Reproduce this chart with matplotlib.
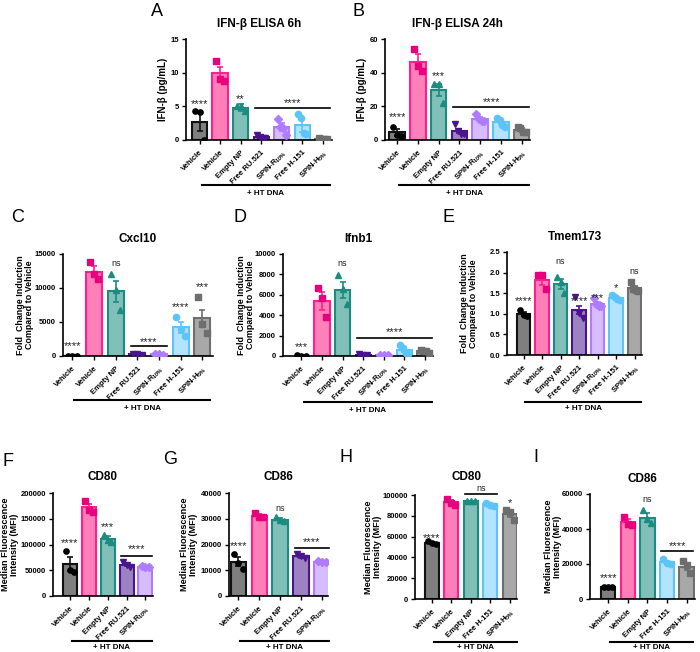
import numpy as np
import matplotlib
matplotlib.use('Agg')
import matplotlib.pyplot as plt
from matplotlib.transforms import blended_transform_factory

plt.rcParams['font.family'] = ['Liberation Sans', 'DejaVu Sans']
plt.rcParams['font.weight'] = 'bold'
plt.rcParams['mathtext.default'] = 'regular'

# Estilo de cada grupo: relleno, borde, marcador, color de marcador
styles = {
    'veh':     ('#7f7f7f', '#111111', 'o', '#000000'),
    'veh_dna': ('#ff80b8', '#ff1f8e', 's', '#e8007d'),
    'np':      ('#80c0b8', '#1b8c80', '^', '#1b8c80'),
    'ru':      ('#9c82c2', '#4a148c', 'v', '#4a148c'),
    'spin_r':  ('#d6bcff', '#b07cff', 'D', '#b07cff'),
    'h151':    ('#b2e3ff', '#5cc4f8', 'o', '#5cc4f8'),
    'spin_h':  ('#a8a8a8', '#6e6e6e', 's', '#6e6e6e'),
}

groups7 = ['veh', 'veh_dna', 'np', 'ru', 'spin_r', 'h151', 'spin_h']
labels7 = ['Vehicle', 'Vehicle', 'Empty NP', 'Free RU.521',
           'SPIN-R$_{10\\%}$', 'Free H-151', 'SPIN-H$_{5\\%}$']
groups_fg = ['veh', 'veh_dna', 'np', 'ru', 'spin_r']
labels_fg = ['Vehicle', 'Vehicle', 'Empty NP', 'Free RU.521', 'SPIN-R$_{10\\%}$']
groups_hi = ['veh', 'veh_dna', 'np', 'h151', 'spin_h']
labels_hi = ['Vehicle', 'Vehicle', 'Empty NP', 'Free H-151', 'SPIN-H$_{5\\%}$']

# A: IFN-b ELISA 6h
a_means = [2.7, 9.9, 4.8, 0.5, 1.9, 2.2, 0.2]
a_sems = [1.3, 1.0, 0.5, 0.2, 0.6, 1.0, 0.1]
a_points = [[4.3, 4.1, 0.0], [11.8, 9.1, 8.8], [5.1, 5.0, 4.3], [0.8, 0.5, 0.3, 0.3],
            [3.1, 2.0, 1.8, 0.8], [3.8, 3.2, 1.0, 0.9], [0.3, 0.2, 0.1, 0.1]]
a_stars = {0: ('****', 5.4), 2: ('**', 6.1)}
a_bracket = (3, 6, 4.75, '****', 5.5)

# B: IFN-b ELISA 24h
b_means = [4.5, 46.5, 29.5, 5.5, 12.5, 10.5, 6.0]
b_sems = [2.0, 4.5, 3.5, 1.3, 1.2, 1.2, 1.2]
b_points = [[8.0, 3.0, 2.5], [54, 44, 41], [33, 33, 22], [9.5, 5.5, 3.5, 3.5],
            [15.5, 12.5, 11, 11], [13, 12, 9, 8], [8, 7, 5, 4.5]]
b_stars = {0: ('****', 13.9), 2: ('***', 38.2)}
b_bracket = (3, 6, 19.4, '****', 22.8)

# C: Cxcl10
c_means = [30, 12400, 9500, 250, 250, 4200, 5600]
c_sems = [10, 800, 1600, 30, 30, 800, 1200]
c_points = [[40, 30, 20], [13800, 12000, 11300], [12100, 9700, 6700], [300, 250, 200],
            [300, 250, 200], [5800, 4000, 3000], [8700, 4700, 3400]]
c_stars = {0: ('****', 1400), 2: ('ns', 13570), 5: ('****', 7180), 6: ('***', 10080)}
c_bracket = (3, 4, 1400, '****', 2100)

# D: Ifnb1
d_means = [40, 5400, 6500, 130, 100, 600, 450]
d_sems = [10, 850, 800, 20, 10, 200, 80]
d_points = [[60, 40, 20], [6700, 5700, 3800], [7900, 6600, 5100], [150, 130, 110],
            [110, 100, 90], [1100, 800, 300, 200], [550, 500, 450, 300]]
d_stars = {0: ('***', 920), 2: ('ns', 9100)}
d_bracket = (3, 6, 1740, '****', 2300)

# E: Tmem173
e_means = [1.0, 1.82, 1.73, 1.09, 1.24, 1.38, 1.62]
e_sems = [0.05, 0.12, 0.12, 0.09, 0.05, 0.03, 0.05]
e_points = [[1.1, 0.97, 0.95], [1.94, 1.93, 1.6], [1.9, 1.78, 1.5], [1.4, 1.02, 0.9],
            [1.38, 1.25, 1.2, 1.18], [1.45, 1.4, 1.35, 1.33], [1.78, 1.6, 1.58, 1.55]]
e_stars = {0: ('****', 1.30), 2: ('ns', 2.27), 3: ('****', 1.30), 4: ('***', 1.37),
           5: ('*', 1.62), 6: ('ns', 2.03)}

# F: CD80 (RU.521)
f_means = [62000, 172000, 110000, 61000, 57000]
f_sems = [13000, 6000, 7000, 3000, 1000]
f_points = [[88000, 50000, 47000], [185000, 167000, 163000], [118000, 108000, 104000],
            [66000, 61000, 57000], [58000, 57000, 56000]]
f_stars = {0: ('****', 102000), 2: ('***', 133000)}
f_bracket = (3, 4, 77500, '****', 90500)

# G: CD86 (RU.521)
g_means = [13300, 31200, 29700, 15500, 13300]
g_sems = [1800, 500, 600, 700, 200]
g_points = [[16500, 12800, 10600], [32300, 30800, 30500], [30700, 29500, 29000],
            [16500, 15500, 14700], [13500, 13300, 13100]]
g_stars = {0: ('****', 19400), 2: ('ns', 33900)}
g_bracket = (3, 4, 18760, '****', 21100)

# H: CD80 (H-151)
h_means = [54000, 93000, 94000, 91000, 82000]
h_sems = [1000, 2000, 300, 1200, 3000]
h_points = [[56000, 53500, 52500], [96500, 92000, 90500], [94300, 94000, 93800],
            [92500, 90500, 89000], [86000, 84000, 76000]]
h_stars = {0: ('****', 59000), 4: ('*', 92000)}
h_bracket = (2, 3, 100600, 'ns', 106300)

# I: CD86 (H-151)
i_means = [6800, 44000, 46500, 21000, 18500]
i_sems = [200, 1500, 2500, 1000, 1800]
i_points = [[7000, 6800, 6600], [47000, 43000, 42500], [51000, 45500, 43500],
            [23000, 20500, 19800], [21500, 19500, 15000]]
i_stars = {0: ('****', 12200), 2: ('ns', 56600)}
i_bracket = (3, 4, 27600, '****', 30500)


def draw_panel(ax, groups, labels, means, sems, points, stars, bracket,
               title, ylabel, yticks, xlim, ylab_x, dna_y, fmt=None, title_pad=9,
               ylab_size=7):
    n = len(groups)
    x = np.arange(n)
    for k, g in enumerate(groups):
        face, edge, mk, mc = styles[g]
        ax.bar(x[k], means[k], width=0.74, color=face, edgecolor=edge, linewidth=1.5, zorder=1)
        ax.errorbar(x[k], means[k], yerr=sems[k], color=edge, capsize=2.5,
                    elinewidth=1.2, capthick=1.2, zorder=2)
        pts = points[k]
        offs = np.linspace(-0.2, 0.2, len(pts))
        ms = 4.5 if g == 'h151' else 3.8
        ax.plot(x[k] + offs, pts, linestyle='none', marker=mk, color=mc,
                markersize=ms, zorder=3)
    for k, (txt, yy) in stars.items():
        ax.text(k, yy, txt, ha='center', va='center', fontsize=8 if txt != 'ns' else 6.5,
                fontweight='normal', color='#222222', clip_on=False)
    if bracket is not None:
        i0, i1, yl, txt, yt = bracket
        ax.plot([i0 - 0.3, i1 + 0.35], [yl, yl], color='black', lw=1.2, clip_on=False)
        ax.text((i0 + i1) / 2 + 0.03, yt, txt, ha='center', va='center',
                fontsize=8 if txt != 'ns' else 6.5, fontweight='normal', color='#222222')
    ax.set_xlim(*xlim)
    ax.set_ylim(yticks[0], yticks[-1])
    ax.set_yticks(yticks)
    if fmt is not None:
        ax.set_yticklabels([fmt % v for v in yticks])
    ax.set_xticks(x)
    ax.set_xticklabels(labels, rotation=45, ha='right', rotation_mode='anchor', fontsize=5.5)
    ax.tick_params(axis='y', labelsize=5.5, length=3, width=1, pad=2)
    ax.tick_params(axis='x', length=3, width=1)
    for s in ['top', 'right']:
        ax.spines[s].set_visible(False)
    for s in ['left', 'bottom']:
        ax.spines[s].set_linewidth(1.2)
    ax.set_title(title, fontsize=8.5, fontweight='bold', pad=title_pad)
    ax.set_ylabel(ylabel, fontsize=ylab_size, fontweight='bold', linespacing=1.0)
    ax.yaxis.set_label_coords(ylab_x, 0.5)
    # linea + HT DNA
    tr = blended_transform_factory(ax.transData, ax.transAxes)
    x0, x1 = 0.1, n - 1 + 0.35
    ax.plot([x0, x1], [dna_y[0], dna_y[0]], color='black', lw=1.5,
            transform=tr, clip_on=False)
    ax.text((x0 + x1) / 2, dna_y[1], '+ HT DNA', transform=tr, ha='center',
            va='center', fontsize=5.8, fontweight='bold')


fig = plt.figure(figsize=(7.0, 6.52), dpi=100)
W, H = 700.0, 652.0


def axes_px(l, t, r, b):
    return fig.add_axes([l / W, 1 - b / H, (r - l) / W, (b - t) / H])


ax_a = axes_px(186, 39, 332, 140)
ax_b = axes_px(385, 39, 530, 140)
ax_c = axes_px(63, 254, 213, 356)
ax_d = axes_px(283, 254, 433, 356)
ax_e = axes_px(507, 252, 642, 355)
ax_f = axes_px(53, 493, 153, 596)
ax_g = axes_px(229, 493, 328, 596)
ax_h = axes_px(415, 495, 517, 599)
ax_i = axes_px(590, 494, 695, 599)

ifn_lab = 'IFN-β (pg/mL)'
fold_lab = 'Fold  Change Induction\nCompared to Vehicle'
mfi_lab = 'Median Fluorescence\nIntensity (MFI)'

draw_panel(ax_a, groups7, labels7, a_means, a_sems, a_points, a_stars, a_bracket,
           'IFN-β ELISA 6h', ifn_lab, [0, 5, 10, 15], (-0.66, 6.45), -0.125, (-0.445, -0.525))
draw_panel(ax_b, groups7, labels7, b_means, b_sems, b_points, b_stars, b_bracket,
           'IFN-β ELISA 24h', ifn_lab, [0, 20, 40, 60], (-0.58, 6.4), -0.125, (-0.445, -0.525))
draw_panel(ax_c, groups7, labels7, c_means, c_sems, c_points, c_stars, c_bracket,
           'Cxcl10', fold_lab, [0, 5000, 10000, 15000], (-0.43, 6.49), -0.193, (-0.43, -0.51),
           ylab_size=6.4)
draw_panel(ax_d, groups7, labels7, d_means, d_sems, d_points, d_stars, d_bracket,
           'Ifnb1', fold_lab, [0, 2000, 4000, 6000, 8000, 10000], (-0.9, 6.4), -0.187,
           (-0.45, -0.53), ylab_size=6.4)
draw_panel(ax_e, groups7, labels7, e_means, e_sems, e_points, e_stars, None,
           'Tmem173', fold_lab, [0, 0.5, 1.0, 1.5, 2.0, 2.5], (-0.9, 6.4), -0.215,
           (-0.453, -0.524), fmt='%.1f', ylab_size=6.4)
draw_panel(ax_f, groups_fg, labels_fg, f_means, f_sems, f_points, f_stars, f_bracket,
           'CD80', mfi_lab, [0, 50000, 100000, 150000, 200000], (-0.9, 4.4), -0.34,
           (-0.437, -0.5), ylab_size=6.6)
draw_panel(ax_g, groups_fg, labels_fg, g_means, g_sems, g_points, g_stars, g_bracket,
           'CD86', mfi_lab, [0, 10000, 20000, 30000, 40000], (-0.45, 4.3), -0.31,
           (-0.434, -0.5), ylab_size=6.6)
draw_panel(ax_h, groups_hi, labels_hi, h_means, h_sems, h_points, h_stars, h_bracket,
           'CD80', mfi_lab, [0, 20000, 40000, 60000, 80000, 100000], (-0.86, 4.37), -0.32,
           (-0.41, -0.465), title_pad=11, ylab_size=6.6)
draw_panel(ax_i, groups_hi, labels_hi, i_means, i_sems, i_points, i_stars, i_bracket,
           'CD86', mfi_lab, [0, 20000, 40000, 60000], (-0.93, 4.43), -0.27,
           (-0.41, -0.465), ylab_size=6.6)

# letras de los paneles
letters = [('A', 157, 12), ('B', 358, 12), ('C', 18, 217), ('D', 240, 217),
           ('E', 448, 217), ('F', 8, 461), ('G', 170, 459), ('H', 346, 457), ('I', 536, 457)]
for txt, px, py in letters:
    fig.text(px / W, 1 - py / H, txt, fontsize=13, fontweight='normal',
             ha='center', va='center')

fig.savefig('out.png', dpi=100)
